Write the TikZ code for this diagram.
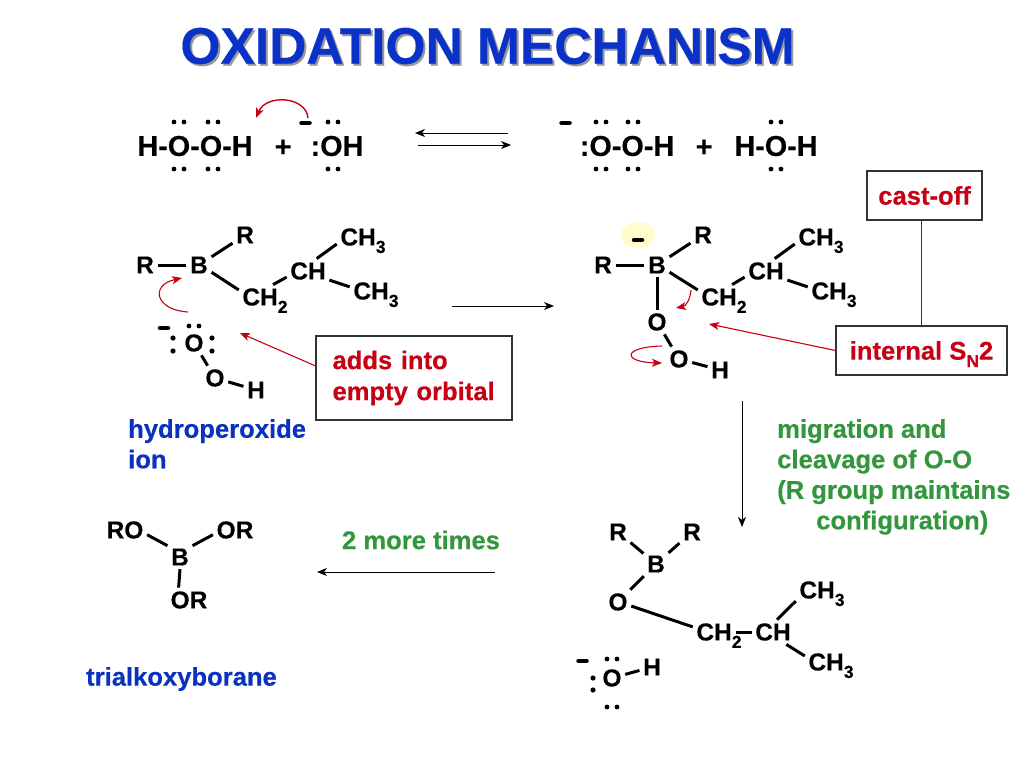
\documentclass[tikz,border=0pt]{standalone}
\usepackage{fontspec}
\setmainfont{Liberation Sans}[BoldFeatures={FakeBold=0.35}]
\usetikzlibrary{positioning, arrows.meta, calc}
\definecolor{titleblue}{RGB}{10,50,200}
\definecolor{labelblue}{RGB}{10,50,190}
\definecolor{labelred}{RGB}{200,0,20}
\definecolor{labelgreen}{RGB}{50,150,60}
\definecolor{glow}{RGB}{255,252,205}
\newcommand{\lonepair}[2]{\fill (#1-5,#2) circle (2.4) (#1+5,#2) circle (2.4);}
\newcommand{\sidepair}[3]{\fill (#1,#2) circle (2.6) (#1,#3) circle (2.6);}
\newcommand{\chgminus}[2]{\draw[line width=4.5,line cap=round] (#1-4,#2) -- (#1+4,#2);}
\newcommand{\chemsub}[1]{\smash{\raisebox{-7.5pt}{\fontsize{17.5}{18}\selectfont #1}}}

\begin{document}
\begin{tikzpicture}[
    x=1pt, y=-1pt,
    formula/.style={inner sep=0pt, font=\fontsize{28.8}{30}\bfseries\selectfont},
    atom/.style={inner sep=3.5pt, font=\fontsize{24.5}{26}\bfseries\selectfont},
    textlabel/.style={inner sep=0pt, align=left, font=\fontsize{25.6}{30.5}\bfseries\selectfont},
    redbox/.style={draw=black!80, line width=1.2pt, fill=white, text=labelred, inner sep=0pt, font=\fontsize{25.6}{31}\bfseries\selectfont},
    bond/.style={line width=3pt},
    thinarrow/.style={-{Stealth[inset=3pt,length=10pt,width=8pt]}, line width=1pt, black},
    redarrow/.style={-{Stealth[inset=2.5pt,length=10pt,width=8pt]}, line width=1.1pt, labelred}
]
    \useasboundingbox (0,0) rectangle (1024,768);

    % Title
    \node[inner sep=0pt, text=black!40, font=\fontsize{51.5}{55}\bfseries\selectfont] (titleshade) at (489.5,48) {OXIDATION MECHANISM};
    \node[inner sep=0pt, text=titleblue, font=\fontsize{51.5}{55}\bfseries\selectfont] (title) at (487.5,46) {OXIDATION MECHANISM};

    % Row 1: acid-base equilibrium
    \node[formula] (hooh) at (195,146) {H-O-O-H};
    \node[formula] (plusa) at (283,148) {+};
    \node[formula] (ohion) at (337,146) {:OH};
    \node[formula] (ooh) at (627,146) {:O-O-H};
    \node[formula] (plusb) at (704,148) {+};
    \node[formula] (water) at (776,146) {H-O-H};
    \lonepair{179}{122} \lonepair{213}{122} \lonepair{333}{122}
    \lonepair{179}{169} \lonepair{213}{169} \lonepair{333}{169}
    \lonepair{601}{122} \lonepair{633}{122} \lonepair{776}{122}
    \lonepair{601}{169} \lonepair{633}{169} \lonepair{776}{169}
    \chgminus{305.5}{123}
    \chgminus{565.5}{123}

    \coordinate (eqa) at (508,133);
    \coordinate (eqb) at (415,133);
    \coordinate (eqc) at (418,145);
    \coordinate (eqd) at (511,145);
    \draw[thinarrow] (eqa) -- (eqb);
    \draw[thinarrow] (eqc) -- (eqd);
    \coordinate (pusha) at (308,118);
    \coordinate (pushb) at (256,118);
    \draw[redarrow, line width=1.4pt] (pusha) .. controls (306,96) and (266,94) .. (pushb);

    % Row 2: left borane
    \node[atom] (ra) at (145,265) {R};
    \node[atom] (ba) at (199,265) {B};
    \node[atom] (rb) at (245,235) {R};
    \node[atom] (cha) at (265,297) {CH\chemsub{2}};
    \node[atom] (chb) at (308,271) {CH};
    \node[atom] (mea) at (363,237) {CH\chemsub{3}};
    \node[atom] (meb) at (376,291) {CH\chemsub{3}};
    \draw[bond] (ra) -- (ba);
    \draw[bond] (ba) -- (rb);
    \draw[bond] (ba.-30) -- (cha.165);
    \draw[bond] (cha.57) -- (chb.196);
    \draw[bond] (chb.55) -- (mea.195);
    \draw[bond] (chb.-23) -- (meb.171);

    \node[atom] (oa) at (194,343) {O};
    \node[atom] (ob) at (215,378) {O};
    \node[atom] (ha) at (256,390) {H};
    \draw[bond] (oa) -- (ob);
    \draw[bond] (ob) -- (ha);
    \lonepair{194}{326}
    \sidepair{173}{338}{351}
    \sidepair{212}{338}{351}
    \chgminus{164}{328}

    \coordinate (pushc) at (188,312);
    \coordinate (pushd) at (182,278);
    \draw[redarrow] (pushc) .. controls (155,310) and (150,285) .. (pushd);

    % Box: adds into
    \node[redbox, align=left, minimum width=196, minimum height=84, text width=163] (addbox) at (414,378) {adds into\\empty orbital};
    \coordinate (addtip) at (240,333);
    \draw[redarrow] (addbox.173) -- (addtip);
    \node[textlabel, text=labelblue, anchor=north west] (hydro) at (128,419) {hydroperoxide\\ion};

    % Arrow to the middle
    \coordinate (mida) at (452,306);
    \coordinate (midb) at (554,306);
    \draw[thinarrow] (mida) -- (midb);

    % Row 2: borate complex
    \fill[glow] (638,235) ellipse (17 and 13);
    \node[atom] (rc) at (603,265) {R};
    \node[atom] (bb) at (657,265) {B};
    \node[atom] (rd) at (703,235) {R};
    \node[atom] (chc) at (724,297) {CH\chemsub{2}};
    \node[atom] (chd) at (766,271) {CH};
    \node[atom] (mec) at (821,237) {CH\chemsub{3}};
    \node[atom] (med) at (834,291) {CH\chemsub{3}};
    \draw[bond] (rc) -- (bb);
    \draw[bond] (bb) -- (rd);
    \draw[bond] (bb.-30) -- (chc.165);
    \draw[bond] (chc.57) -- (chd.196);
    \draw[bond] (chd.55) -- (mec.195);
    \draw[bond] (chd.-23) -- (med.171);
    \node[atom] (oc) at (657,322) {O};
    \node[atom] (od) at (679,359) {O};
    \node[atom] (hb) at (720,370) {H};
    \draw[bond] (bb) -- (oc);
    \draw[bond] (oc) -- (od);
    \draw[bond] (od) -- (hb);
    \chgminus{638}{240}

    \coordinate (pushe) at (691,290);
    \coordinate (pushf) at (676,308);
    \draw[redarrow] (pushe) .. controls (690,300) and (686,306) .. (pushf);
    \coordinate (pushg) at (662,346);
    \coordinate (pushh) at (662,363);
    \draw[redarrow] (pushg) .. controls (622,347) and (622,362) .. (pushh);

    % Boxes on the right
    \node[redbox, minimum width=115, minimum height=49] (castbox) at (924.5,195.5) {\raisebox{-3pt}{cast-off}};
    \node[redbox, minimum width=171, minimum height=49] (snbox) at (921.5,350.5) {internal S\chemsub{N}2};
    \draw[line width=1.2pt, black!80] (snbox.north) -- (snbox.north |- castbox.south);
    \coordinate (sntip) at (709,324);
    \draw[redarrow] (snbox.west) -- (sntip);

    % Migration
    \coordinate (miga) at (742,401);
    \coordinate (migb) at (742,527);
    \draw[thinarrow] (miga) -- (migb);
    \node[textlabel, text=labelgreen, anchor=north west] (migtext) at (777,419) {migration and\\cleavage of O-O\\(R group maintains\\\hspace*{39pt}configuration)};

    % Bottom right: borate ester
    \node[atom] (re) at (618,532) {R};
    \node[atom] (rf) at (692,532) {R};
    \node[atom] (bc) at (656,564) {B};
    \node[atom] (oe) at (618,602) {O};
    \node[atom] (che) at (719,632) {CH\chemsub{2}};
    \node[atom] (chf) at (773,632) {CH};
    \node[atom] (mee) at (822,590) {CH\chemsub{3}};
    \node[atom] (mef) at (831,662) {CH\chemsub{3}};
    \draw[bond] (re) -- (bc);
    \draw[bond] (rf) -- (bc);
    \draw[bond] (bc) -- (oe);
    \draw[bond] (oe.-17) -- (che.169);
    \draw[bond] ([xshift=17]che.center) -- (chf.west);
    \draw[bond] (chf.72) -- (mee.203);
    \draw[bond] (chf.-43) -- (mef.167);
    \node[atom] (of) at (612,678) {O};
    \node[atom] (hc) at (652,667) {H};
    \draw[bond] (of) -- (hc);
    \lonepair{612}{659}
    \lonepair{612}{707}
    \sidepair{593}{678}{690}
    \chgminus{582.5}{661}

    % Bottom left: product
    \coordinate (moreb) at (495,572);
    \coordinate (morea) at (317,572);
    \draw[thinarrow] (moreb) -- (morea);
    \node[textlabel, text=labelgreen] (moretext) at (421,540) {2 more times};
    \node[atom] (ror) at (125,530) {RO};
    \node[atom] (orb) at (235,530) {OR};
    \node[atom] (bd) at (180,557) {B};
    \node[atom] (orc) at (189,600) {OR};
    \draw[bond] (ror.-12) -- (bd.138);
    \draw[bond] (bd.42) -- (orb.192);
    \draw[bond] (bd.south) -- (orc.130);
    \node[textlabel, text=labelblue] (trial) at (181.5,679) {trialkoxyborane};
\end{tikzpicture}
\end{document}
